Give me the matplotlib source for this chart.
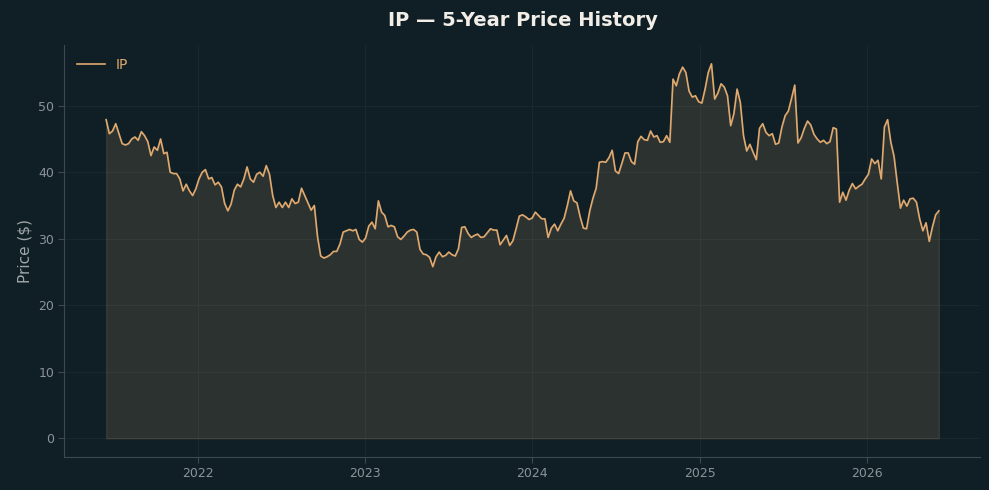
import matplotlib
matplotlib.use("Agg")
import matplotlib.pyplot as plt
import matplotlib.dates as mdates
import pandas as pd

ticker = "IP"
title = "IP — 5-Year Price History"
start_date = "2021-06-14"

# Weekly closing prices
prices = [
    47.9, 45.8, 46.2, 47.3, 45.8,
    44.3, 44.1, 44.3, 45.0, 45.3,
    44.8, 46.1, 45.5, 44.6, 42.5,
    43.8, 43.3, 45.0, 42.8, 43.0,
    40.0, 39.8, 39.8, 39.0, 37.2,
    38.2, 37.2, 36.5, 37.5, 39.0,
    40.0, 40.4, 39.0, 39.2, 38.1,
    38.5, 37.8, 35.3, 34.2, 35.2,
    37.3, 38.2, 37.8, 39.0, 40.8,
    39.0, 38.5, 39.7, 40.0, 39.4,
    41.0, 39.7, 36.5, 34.7, 35.5,
    34.7, 35.5, 34.7, 36.0, 35.3,
    35.5, 37.6, 36.5, 35.4, 34.3,
    35.0, 30.3, 27.4, 27.1, 27.3,
    27.6, 28.1, 28.1, 29.2, 31.0,
    31.2, 31.4, 31.2, 31.4, 29.9,
    29.5, 30.1, 31.9, 32.5, 31.5,
    35.7, 34.0, 33.5, 31.8, 32.0,
    31.8, 30.3, 29.9, 30.4, 31.0,
    31.3, 31.4, 31.0, 28.4, 27.7,
    27.6, 27.2, 25.8, 27.3, 28.0,
    27.3, 27.5, 28.0, 27.6, 27.4,
    28.5, 31.7, 31.8, 30.8, 30.2,
    30.5, 30.7, 30.2, 30.3, 30.9,
    31.5, 31.3, 31.3, 29.1, 29.8,
    30.5, 29.0, 29.7, 31.5, 33.4,
    33.6, 33.3, 32.9, 33.1, 34.0,
    33.5, 33.0, 33.0, 30.2, 31.6,
    32.2, 31.2, 32.2, 33.1, 35.0,
    37.2, 35.7, 35.4, 33.3, 31.6,
    31.5, 34.2, 36.1, 37.6, 41.5,
    41.6, 41.5, 42.2, 43.3, 40.2,
    39.8, 41.3, 42.9, 42.9, 41.6,
    41.2, 44.6, 45.4, 44.9, 44.8,
    46.2, 45.3, 45.5, 44.5, 44.6,
    45.5, 44.5, 54.0, 53.0, 54.8,
    55.8, 55.0, 52.2, 51.3, 51.5,
    50.6, 50.4, 52.5, 55.0, 56.3,
    51.0, 51.9, 53.3, 52.8, 51.5,
    47.0, 48.8, 52.5, 50.5, 45.5,
    43.2, 44.2, 43.0, 41.9, 46.6,
    47.3, 46.0, 45.5, 45.8, 44.2,
    44.4, 46.8, 48.5, 49.2, 51.1,
    53.1, 44.4, 45.2, 46.6, 47.7,
    47.1, 45.7, 45.0, 44.5, 44.8,
    44.3, 44.6, 46.7, 46.5, 35.5,
    37.0, 35.8, 37.3, 38.3, 37.5,
    37.9, 38.2, 39.0, 39.7, 42.0,
    41.3, 41.8, 39.0, 46.8, 47.9,
    44.5, 42.4, 38.4, 34.6, 35.8,
    34.9, 36.0, 36.1, 35.5, 33.0,
    31.2, 32.4, 29.6, 31.8, 33.6,
    34.2,
]

dates = pd.date_range(start=start_date, periods=len(prices), freq="7D")

BG = "#0f1f25"
LINE = "#e0a96f"
GRID = "#17282e"
SPINE = "#3b4a50"
TICK = "#8a9499"

fig = plt.figure(figsize=(9.89, 4.90), dpi=100, facecolor=BG)
ax = fig.add_axes([0.0652, 0.0673, 0.9262, 0.8407])
ax.set_facecolor(BG)

ax.fill_between(dates, prices, 0, color=LINE, alpha=0.14, linewidth=1)
ax.plot(dates, prices, color=LINE, linewidth=1.2, label=ticker)

ax.set_title(title, color="#f2ede6", fontsize=14, fontweight="bold", pad=14)
ax.set_ylabel("Price ($)", color="#9ea6aa", fontsize=11)

ax.xaxis.set_major_locator(mdates.YearLocator())
ax.xaxis.set_major_formatter(mdates.DateFormatter("%Y"))
ax.set_yticks([0, 10, 20, 30, 40, 50])

ax.grid(True, color=GRID, linewidth=0.8)
ax.set_axisbelow(True)
for s in ["top", "right"]:
    ax.spines[s].set_visible(False)
for s in ["left", "bottom"]:
    ax.spines[s].set_color(SPINE)
ax.tick_params(colors=TICK, labelsize=9, length=4, color=SPINE)

leg = ax.legend(loc="upper left", frameon=False, fontsize=10)
for t in leg.get_texts():
    t.set_color(LINE)

fig.savefig("out.png", dpi=100, facecolor=BG)
